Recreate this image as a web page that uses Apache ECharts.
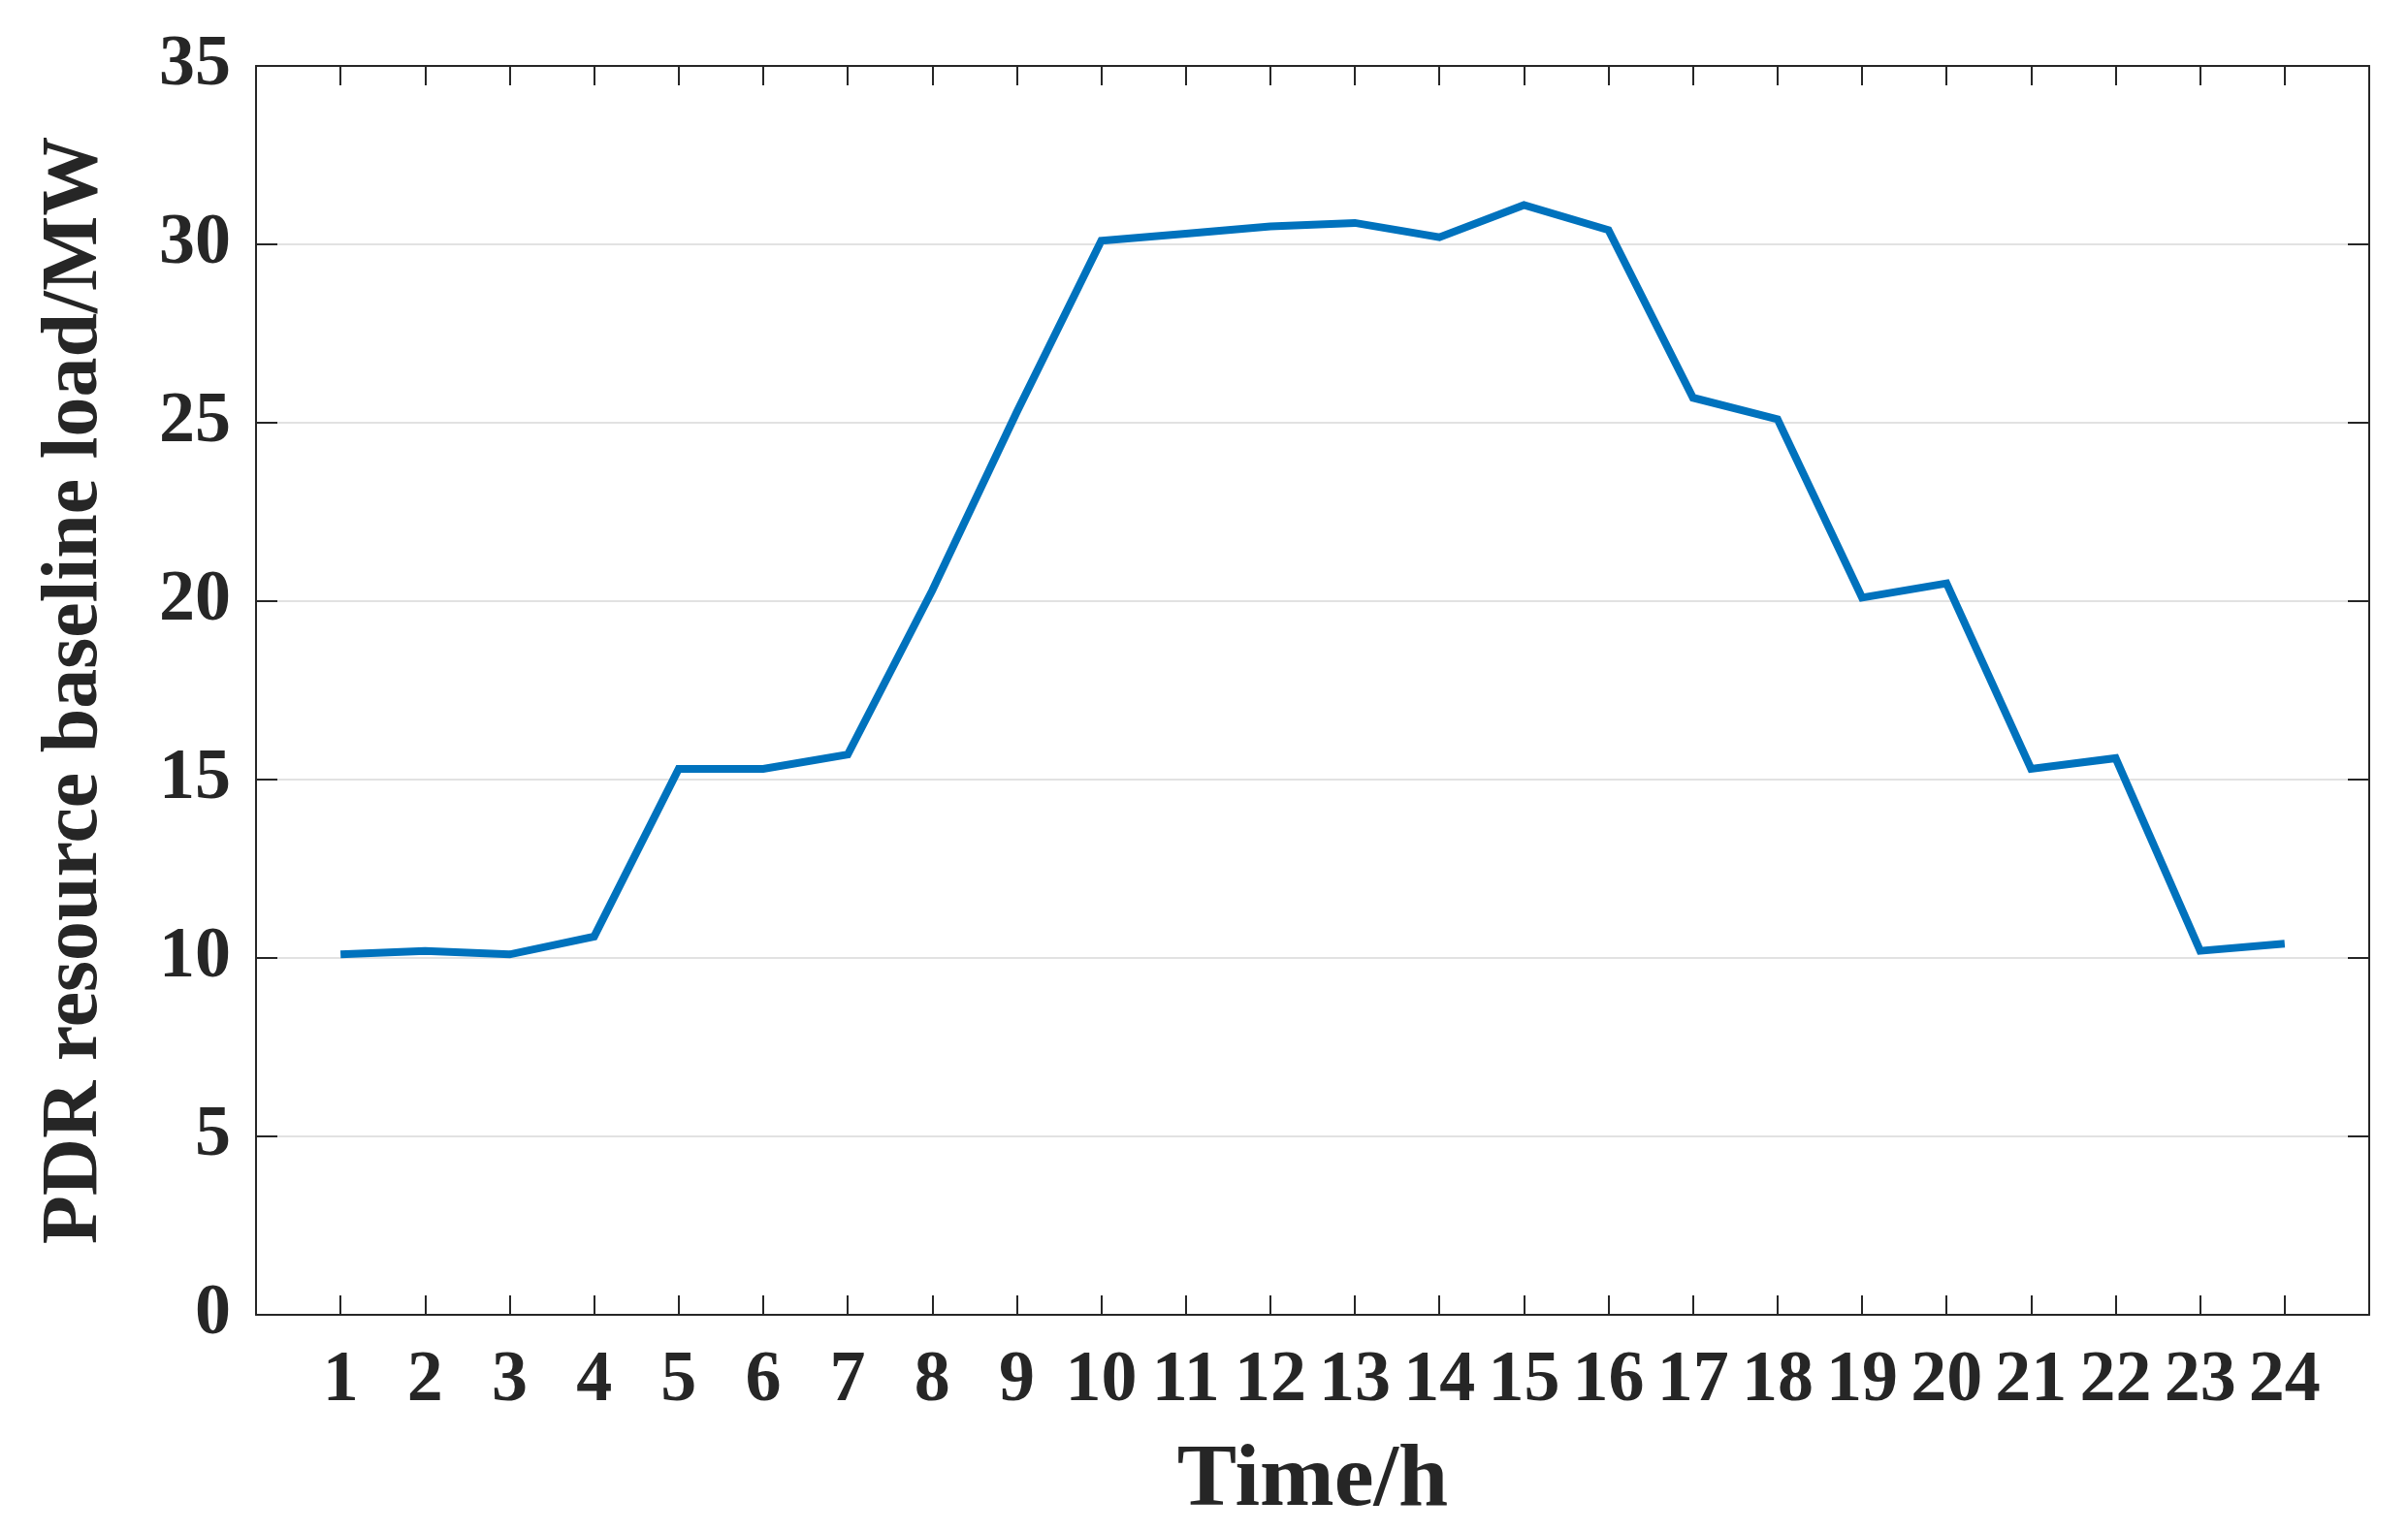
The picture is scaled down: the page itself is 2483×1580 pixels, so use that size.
<!DOCTYPE html>
<html>
<head>
<meta charset="utf-8">
<script src="https://cdn.jsdelivr.net/npm/echarts@6/dist/echarts.min.js"></script>
<style>
html,body{margin:0;padding:0;background:#fff;}
#chart{width:2483px;height:1580px;}
</style>
</head>
<body>
<div id="chart"></div>
<script>
// Data
var hours = [1,2,3,4,5,6,7,8,9,10,11,12,13,14,15,16,17,18,19,20,21,22,23,24];
var baselineLoad = [10.1,10.2,10.1,10.6,15.3,15.3,15.7,20.3,25.3,30.1,30.3,30.5,30.6,30.2,31.1,30.4,25.7,25.1,20.1,20.5,15.3,15.6,10.2,10.4];
var yTicks = [0,5,10,15,20,25,30,35];
var xTitle = 'Time/h';
var yTitle = 'PDR resource baseline load/MW';

var FONT = '"Liberation Serif", serif';
var TXT = '#262626';

var chart = echarts.init(document.getElementById('chart'), null, {renderer:'canvas'});
var seriesData = hours.map(function(h,i){ return [h, baselineLoad[i]]; });

chart.setOption({
  backgroundColor:'#ffffff',
  animation:false,
  grid:{left:264, right:40, top:68, bottom:224, containLabel:false},
  xAxis:[{
    type:'value', position:'bottom', min:0, max:25, interval:1,
    name:xTitle, nameLocation:'middle', nameGap:126,
    nameTextStyle:{fontFamily:FONT, fontWeight:'bold', fontSize:92, color:TXT},
    axisLine:{show:true, onZero:false, lineStyle:{color:TXT, width:2}},
    axisTick:{show:true, inside:true, length:20, lineStyle:{color:TXT, width:2}},
    axisLabel:{show:true, margin:32, fontFamily:FONT, fontWeight:'bold', fontSize:74, color:TXT,
      formatter:function(v){ return (v>=1 && v<=24) ? String(v) : ''; }},
    splitLine:{show:false}
  },{
    type:'value', position:'top', min:0, max:25, interval:1,
    axisLine:{show:true, onZero:false, lineStyle:{color:TXT, width:2}},
    axisTick:{show:true, inside:true, length:20, lineStyle:{color:TXT, width:2}},
    axisLabel:{show:false}, splitLine:{show:false}
  }],
  yAxis:[{
    type:'value', position:'left', min:yTicks[0], max:yTicks[yTicks.length-1], interval:5,
    name:yTitle, nameLocation:'middle', nameGap:145,
    nameTextStyle:{fontFamily:FONT, fontWeight:'bold', fontSize:82, color:TXT},
    axisLine:{show:true, onZero:false, lineStyle:{color:TXT, width:2}},
    axisTick:{show:true, inside:true, length:22, lineStyle:{color:TXT, width:2}},
    axisLabel:{show:true, margin:26, fontFamily:FONT, fontWeight:'bold', fontSize:74, color:TXT},
    splitLine:{show:true, lineStyle:{color:'#d9d9d9', width:1.5}}
  },{
    type:'value', position:'right', min:yTicks[0], max:yTicks[yTicks.length-1], interval:5,
    axisLine:{show:true, onZero:false, lineStyle:{color:TXT, width:2}},
    axisTick:{show:true, inside:true, length:22, lineStyle:{color:TXT, width:2}},
    axisLabel:{show:false}, splitLine:{show:false}
  }],
  series:[{
    type:'line', xAxisIndex:0, yAxisIndex:0,
    data:seriesData, showSymbol:false, symbol:'none',
    lineStyle:{color:'#0072BD', width:8, join:'miter'},
    z:5
  }]
});
</script>
</body>
</html>
